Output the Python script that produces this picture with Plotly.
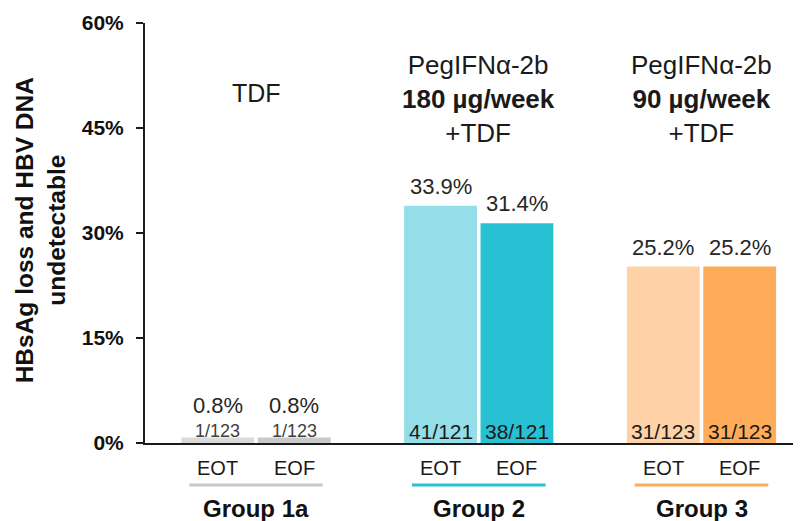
import plotly.graph_objects as go

# ---------------- data ----------------
groups = ["Group 1a", "Group 2", "Group 3"]
timepoints = ["EOT", "EOF"]
eot_pct = [0.8, 33.9, 25.2]
eof_pct = [0.8, 31.4, 25.2]
eot_frac = ["1/123", "41/121", "31/123"]
eof_frac = ["1/123", "38/121", "31/123"]
headers = ["TDF",
           "PegIFNα-2b<br><b>180 µg/week</b><br>+TDF",
           "PegIFNα-2b<br><b>90 µg/week</b><br>+TDF"]
y_ticks = [0, 15, 30, 45, 60]
y_tick_labels = ["0%", "15%", "30%", "45%", "60%"]
y_title = "HBsAg loss and HBV DNA<br>undetectable"

# ---------------- styles ----------------
FONT = "Liberation Sans, Arial, sans-serif"
eot_colors = ["#dadada", "#93dee8", "#fed1a7"]
eof_colors = ["#c9c9c9", "#28c1d4", "#feac5a"]
underline_colors = ["#c8c8c8", "#28c1d4", "#feac5a"]
frac_sizes = [18, 21, 21]
BAR_W = 0.327
OFFSETS = [-0.335, 0.008]

xpos = list(range(len(groups)))

fig = go.Figure()
for vals, cols, off, name in [(eot_pct, eot_colors, OFFSETS[0], timepoints[0]),
                              (eof_pct, eof_colors, OFFSETS[1], timepoints[1])]:
    fig.add_trace(go.Bar(x=xpos, y=vals, width=BAR_W, offset=off, name=name,
                         marker=dict(color=cols, line=dict(width=0)),
                         showlegend=False, hoverinfo="skip"))

ann = []
for i, g in enumerate(groups):
    for vals, fracs, off, tp in [(eot_pct, eot_frac, OFFSETS[0], timepoints[0]),
                                 (eof_pct, eof_frac, OFFSETS[1], timepoints[1])]:
        cx = i + off + BAR_W / 2
        v = vals[i]
        # percentage label
        ann.append(dict(x=cx, y=max(v, 2.64), xref="x", yref="y", text=f"{v:.1f}%",
                        showarrow=False, yanchor="middle", yshift=19.5,
                        font=dict(family=FONT, size=22, color="#262626")))
        # fraction label
        ann.append(dict(x=cx, y=0, xref="x", yref="y", text=fracs[i],
                        showarrow=False, yanchor="middle", yshift=12,
                        font=dict(family=FONT, size=frac_sizes[i],
                                  color="#404040" if i == 0 else "#1a1a1a")))
        # timepoint label
        ann.append(dict(x=cx, y=0, xref="x", yref="paper", text=tp,
                        showarrow=False, yanchor="middle", yshift=-25,
                        font=dict(family=FONT, size=20, color="#1a1a1a")))
    # group label
    ann.append(dict(x=i, y=0, xref="x", yref="paper", text=f"<b>{g}</b>",
                    showarrow=False, yanchor="middle", yshift=-65,
                    font=dict(family=FONT, size=24, color="#111111")))
    # header
    ann.append(dict(x=i, y=0.833 if i == 0 else 0.819, xref="x", yref="paper",
                    text=headers[i], showarrow=False, yanchor="middle",
                    font=dict(family=FONT, size=26 if i else 25, color="#1a1a1a")))

ann.append(dict(x=-0.159, y=0.508, xref="paper", yref="paper", text=f"<b>{y_title}</b>",
                textangle=-90, showarrow=False, xanchor="center", yanchor="middle",
                font=dict(family=FONT, size=24.5, color="#111111")))

shapes = []
for i in range(len(groups)):
    shapes.append(dict(type="line", xref="x", yref="paper",
                       x0=i - 0.30, x1=i + 0.30, y0=-0.1, y1=-0.1,
                       line=dict(color=underline_colors[i], width=3)))

# the page adds an 8px body margin, so the figure is 8px smaller than the window
fig.update_layout(
    width=793, height=513,
    margin=dict(l=137, r=0, t=15, b=78),
    plot_bgcolor="white", paper_bgcolor="white",
    barmode="overlay",
    annotations=ann, shapes=shapes,
    xaxis=dict(range=[-0.4983, 2.4467], showticklabels=False, ticks="",
               showgrid=False, zeroline=False, showline=True,
               linecolor="#1a1a1a", linewidth=2, fixedrange=True),
    yaxis=dict(range=[0, 60], tickvals=y_ticks, ticktext=[f"<b>{t}</b>" for t in y_tick_labels],
               tickfont=dict(family=FONT, size=21, color="#111111"),
               ticks="outside", ticklen=7, tickwidth=2, tickcolor="#1a1a1a",
               ticklabelstandoff=8,
               showgrid=False, zeroline=False, showline=True,
               linecolor="#1a1a1a", linewidth=2, fixedrange=True),
)

fig.write_html("out.html")
